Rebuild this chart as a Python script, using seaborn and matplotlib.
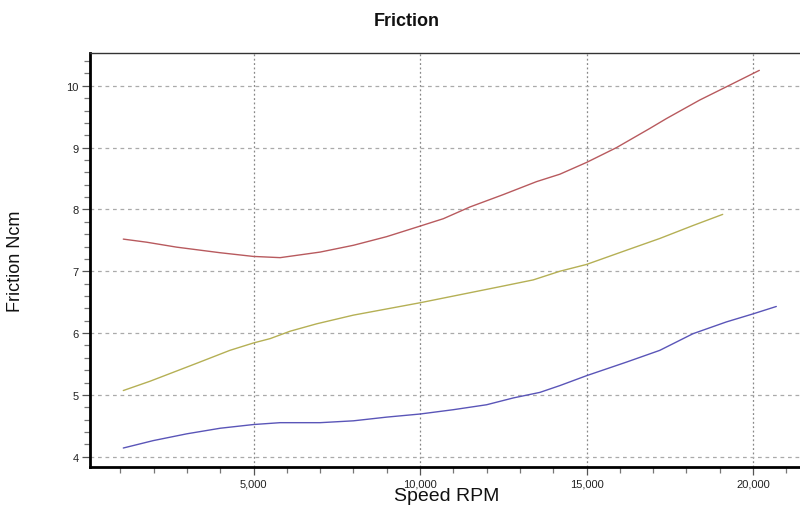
import seaborn as sns
import numpy as np
import pandas as pd
import matplotlib.pyplot as plt
from matplotlib.ticker import MultipleLocator, FuncFormatter

# values
red_rpm = [1090, 1790, 2690, 3990, 4990, 5800, 7000, 8000, 9000, 10000,
           10700, 11500, 12500, 13500, 14200, 15000, 15900, 16900, 17400,
           18400, 19260, 20190]
red_ncm = [7.52, 7.47, 7.39, 7.30, 7.24, 7.22, 7.31, 7.42, 7.56, 7.73,
           7.85, 8.04, 8.24, 8.45, 8.57, 8.76, 9.00, 9.31, 9.47,
           9.77, 10.00, 10.25]

yellow_rpm = [1090, 1890, 3290, 4290, 5000, 5500, 6100, 6900, 8000, 9000,
              10000, 11200, 12400, 13400, 14200, 15000, 16200, 17200,
              18200, 19090]
yellow_ncm = [5.07, 5.22, 5.51, 5.72, 5.84, 5.91, 6.03, 6.15, 6.29, 6.39,
              6.49, 6.62, 6.75, 6.86, 7.00, 7.11, 7.34, 7.53, 7.74, 7.92]

blue_rpm = [1090, 1990, 3000, 4000, 5000, 5800, 7000, 8000, 9000, 10000,
            11000, 12000, 12800, 13600, 14200, 15000, 16200, 17200, 18200,
            19200, 20000, 20700]
blue_ncm = [4.14, 4.26, 4.37, 4.46, 4.52, 4.55, 4.55, 4.58, 4.64, 4.69,
            4.76, 4.84, 4.95, 5.04, 5.15, 5.31, 5.53, 5.72, 5.99,
            6.18, 6.31, 6.43]

df = pd.concat([
    pd.DataFrame({'rpm': red_rpm, 'ncm': red_ncm, 'series': 'a'}),
    pd.DataFrame({'rpm': yellow_rpm, 'ncm': yellow_ncm, 'series': 'b'}),
    pd.DataFrame({'rpm': blue_rpm, 'ncm': blue_ncm, 'series': 'c'}),
])
colors = {'a': '#b85a5e', 'b': '#b5b055', 'c': '#5a55b8'}

sns.set_style('white')
plt.rcParams['font.family'] = ['Liberation Sans', 'DejaVu Sans']

fig = plt.figure(figsize=(8, 5.1), dpi=100)
ax = fig.add_axes([0.1125, 0.082, 0.912, 0.812])

sns.lineplot(data=df, x='rpm', y='ncm', hue='series', palette=colors,
             linewidth=1.0, legend=False, ax=ax, sort=False, estimator=None)

ax.set_xlim(90, 22000)
ax.set_ylim(3.83, 10.53)

ax.xaxis.set_major_locator(MultipleLocator(5000))
ax.xaxis.set_minor_locator(MultipleLocator(1000))
ax.xaxis.set_major_formatter(FuncFormatter(lambda v, p: f'{int(v):,}'))
ax.yaxis.set_major_locator(MultipleLocator(1))
ax.yaxis.set_minor_locator(MultipleLocator(0.2))

ax.tick_params(axis='both', which='major', direction='out', length=6,
               width=0.9, color='#555555', labelsize=8, pad=2,
               labelcolor='#222222', bottom=True, left=True)
ax.tick_params(axis='both', which='minor', direction='out', length=4,
               width=0.9, color='#777777', bottom=True, left=True)

ax.grid(axis='y', which='major', linestyle=(0, (3, 3)), color='#aaaaaa',
        linewidth=0.9)
ax.grid(axis='x', which='major', linestyle=(0, (1.5, 2)), color='#888888',
        linewidth=0.9)

for side in ['left', 'bottom']:
    ax.spines[side].set_linewidth(2)
    ax.spines[side].set_color('black')
ax.spines['top'].set_linewidth(1)
ax.spines['top'].set_color('#333333')
ax.spines['right'].set_visible(False)

ax.set_xlabel('Speed RPM', fontsize=14, color='#111111')
ax.xaxis.set_label_coords((447 - 90) / 729.6, -0.048)
ax.set_ylabel('Friction Ncm', fontsize=13, color='#111111')
ax.yaxis.set_label_coords(-0.09, 0.5)

fig.text(0.508, 0.957, 'Friction', ha='center', va='center',
         fontsize=13, fontweight='bold', color='#111111')

plt.savefig('out.png', dpi=100)
plt.close()
